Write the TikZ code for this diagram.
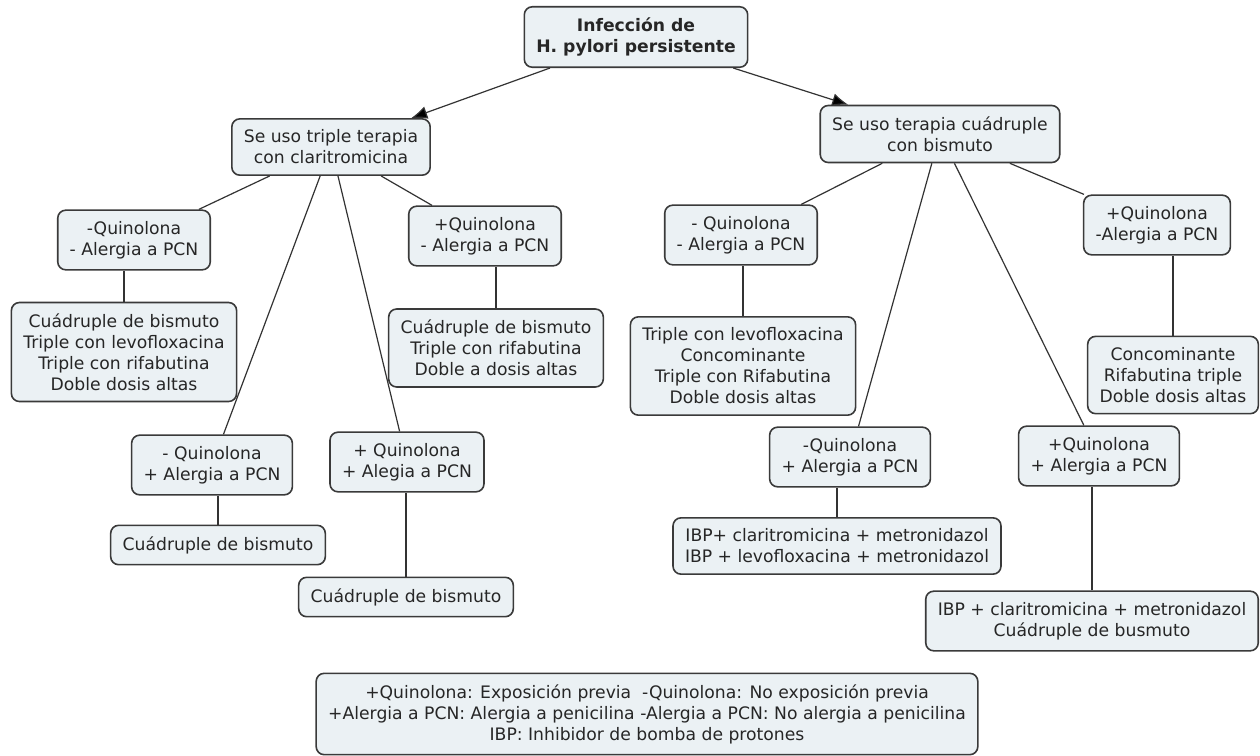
\documentclass[tikz,border=0pt]{standalone}
\usepackage{fontspec}
\setmainfont{DejaVu Sans}
\usepackage{tikz}
\usetikzlibrary{positioning}
\usetikzlibrary{arrows.meta}

\definecolor{boxfill}{HTML}{EBF1F4}
\definecolor{boxline}{HTML}{3A3A3A}

\tikzset{
  concept/.style={draw=boxline,fill=boxfill,rounded corners=4pt,line width=0.8pt,
    align=center,inner xsep=6pt,inner ysep=5.5pt,text=black!85,
    font=\fontsize{8.6}{10.5}\selectfont},
  link/.style={draw=black!80,line width=0.6pt}
}

\begin{document}
\begin{tikzpicture}[x=0.5pt,y=-0.5pt,>={Latex[length=8pt,width=6.5pt]}]
  \useasboundingbox[fill=white] (0,0) rectangle (1260,756);

  \node[concept,font=\fontsize{8.6}{10.5}\selectfont\bfseries] (Infeccion) at (636,37) {Infección de\\H. pylori persistente};
  \node[concept] (Triple)    at (331,147) {Se uso triple terapia\\con claritromicina};
  \node[concept] (Cuadruple) at (940,134) {Se uso terapia cuádruple\\con bismuto};

  \node[concept] (TnQnA)  at (134,240) {-Quinolona\\- Alergia a PCN};
  \node[concept] (TnQnAr) at (124,352) {Cuádruple de bismuto\\Triple con levofloxacina\\Triple con rifabutina\\Doble dosis altas};
  \node[concept] (TpQnA)  at (485,236) {+Quinolona\\- Alergia a PCN};
  \node[concept] (TpQnAr) at (496,348) {Cuádruple de bismuto\\Triple con rifabutina\\Doble a dosis altas};
  \node[concept] (TnQpA)  at (212,465) {- Quinolona\\+ Alergia a PCN};
  \node[concept] (TnQpAr) at (218,545) {Cuádruple de bismuto};
  \node[concept] (TpQpA)  at (407,462) {+ Quinolona\\+ Alegia a PCN};
  \node[concept] (TpQpAr) at (406,597) {Cuádruple de bismuto};

  \node[concept] (CnQnA)  at (741,235) {- Quinolona\\- Alergia a PCN};
  \node[concept] (CnQnAr) at (743,366) {Triple con levofloxacina\\Concominante\\Triple con Rifabutina\\Doble dosis altas};
  \node[concept] (CpQnA)  at (1157,225) {+Quinolona\\-Alergia a PCN};
  \node[concept] (CpQnAr) at (1173,375) {Concominante\\Rifabutina triple\\Doble dosis altas};
  \node[concept] (CnQpA)  at (850,457) {-Quinolona\\+ Alergia a PCN};
  \node[concept] (CnQpAr) at (837,546) {IBP+ claritromicina + metronidazol\\IBP + levofloxacina + metronidazol};
  \node[concept] (CpQpA)  at (1099,456) {+Quinolona\\+ Alergia a PCN};
  \node[concept] (CpQpAr) at (1092,621) {IBP + claritromicina + metronidazol\\Cuádruple de busmuto};

  \node[concept] (Leyenda) at (647,714) {+Quinolona: Exposición previa\ \ -Quinolona: No exposición previa\\+Alergia a PCN: Alergia a penicilina -Alergia a PCN: No alergia a penicilina\\IBP: Inhibidor de bomba de protones};

  % root arrows
  \path[link,->] (Infeccion) edge (Triple)
                 (Infeccion) edge (Cuadruple);

  % branches
  \path[link] (Triple) edge (TnQnA)
              (Triple) edge (TpQnA)
              (Triple) edge (TnQpA)
              (Triple) edge (TpQpA)
           (Cuadruple) edge (CnQnA)
           (Cuadruple) edge (CpQnA)
           (Cuadruple) edge (CnQpA)
           (Cuadruple) edge (CpQpA);

  % results
  \foreach \q in {TnQnA,TpQnA,TnQpA,TpQpA,CnQnA,CpQnA,CnQpA,CpQpA}
    \draw[link] (\q r.north) -- (\q r.north |- \q.south);
\end{tikzpicture}
\end{document}
